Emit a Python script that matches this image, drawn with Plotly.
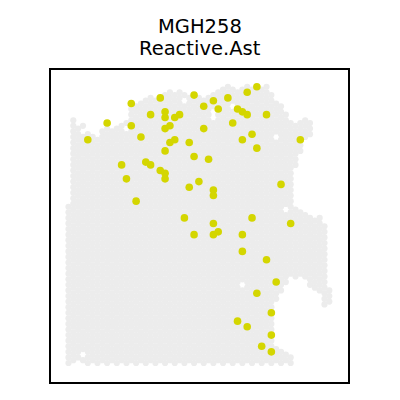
import plotly.graph_objects as go

# ---- Tissue outline: spot columns (array_col) with row-index ranges (array_row) ----
seg_col = [0, 1, 2, 3, 4, 5, 6, 7, 8, 9, 10, 11, 12, 13, 14, 15, 16, 17, 18, 19,
           20, 21, 22, 23, 24, 25, 26, 27, 28, 29, 30, 31, 32, 33, 34, 35, 36, 37, 38, 39,
           40, 41, 42, 43, 43, 44, 44, 45, 45, 46, 46, 47, 47, 48, 48, 49, 49, 50, 50,
           51, 52, 53, 54]
seg_lo = [0, 1, 2, 1, 0, 1, 0, 1, 0, 1, 0, 1, 0, 1, 0, 1, 0, 1, 0, 1,
          0, 1, 0, 1, 0, 1, 0, 1, 0, 1, 0, 1, 0, 1, 0, 1, 0, 1, 0, 1,
          0, 1, 0, 23, 1, 26, 0, 29, 1, 32, 0, 71, 31, 76, 32, 81, 31, 82, 28,
          27, 26, 21, 22]
seg_hi = [56, 87, 84, 85, 82, 81, 80, 83, 86, 83, 84, 85, 86, 93, 92, 93, 94, 95, 94, 95,
          96, 97, 96, 97, 96, 95, 96, 95, 94, 95, 96, 97, 98, 99, 98, 97, 98, 99, 98, 99,
          98, 99, 96, 93, 5, 92, 4, 89, 3, 86, 2, 85, 55, 86, 54, 87, 53, 86, 52,
          51, 52, 49, 26]

# empty spots inside the tissue
hole_col = [3, 36, 45, 43, 30, 30, 34, 3, 12, 24]
hole_row = [3, 28, 55, 81, 88, 90, 92, 83, 84, 94]

# ---- Spots labelled Reactive.Ast ----
hit_col = [13, 19, 26, 8, 17, 20, 20, 22, 23, 13, 4, 15, 20, 21, 21, 22, 25, 20, 26, 11,
           16, 17, 19, 20, 20, 25, 12, 27, 14, 24, 39, 37, 30, 33, 28, 31, 35, 36, 37, 41,
           34, 28, 38, 48, 36, 39, 29, 44, 30, 30, 38, 30, 46, 26, 30, 31, 36, 36, 41, 43,
           39, 42, 35, 37, 42, 40, 42]
hit_row = [93, 95, 96, 86, 89, 90, 88, 88, 89, 85, 80, 81, 84, 85, 79, 80, 79, 76, 74, 71,
           72, 71, 69, 68, 66, 63, 66, 65, 58, 52, 99, 97, 94, 95, 92, 91, 91, 90, 89, 89,
           86, 84, 82, 80, 80, 77, 73, 64, 62, 60, 52, 50, 50, 46, 46, 47, 46, 40, 37, 29,
           25, 18, 15, 13, 10, 6, 4]

holes = set(zip(hole_col, hole_row))
bg_x, bg_y = [], []
for c, lo, hi in zip(seg_col, seg_lo, seg_hi):
    for k in range(lo, hi + 1):
        if (k - c) % 2 == 0 and (c, k) not in holes:
            bg_x.append(c)
            bg_y.append(k)

fig = go.Figure()
fig.add_trace(go.Scatter(x=bg_x, y=bg_y, mode="markers",
                         marker=dict(size=6.2, color="#ececec", line=dict(width=0)),
                         hoverinfo="skip", showlegend=False))
fig.add_trace(go.Scatter(x=hit_col, y=hit_row, mode="markers",
                         marker=dict(size=7.6, color="#d4d600", line=dict(width=0)),
                         showlegend=False))

fig.update_xaxes(range=[-3.62, 57.87], showgrid=False, zeroline=False, showticklabels=False,
                 ticks="", showline=True, mirror=True, linecolor="black", linewidth=1.5)
fig.update_yaxes(range=[-6.81, 105.0], showgrid=False, zeroline=False, showticklabels=False,
                 ticks="", showline=True, mirror=True, linecolor="black", linewidth=1.5)

title_font = dict(family="DejaVu Sans", size=19.5, color="black")
fig.add_annotation(text="MGH258", x=0.5, y=1 + (70 - 26) / 312, xref="paper", yref="paper",
                   showarrow=False, xanchor="center", yanchor="middle", font=title_font)
fig.add_annotation(text="Reactive.Ast", x=0.5, y=1 + (70 - 48.5) / 312, xref="paper", yref="paper",
                   showarrow=False, xanchor="center", yanchor="middle", font=title_font)

fig.update_layout(width=400, height=400, margin=dict(l=51, r=52, t=70, b=18),
                  paper_bgcolor="white", plot_bgcolor="white")
fig.write_html("out.html")
